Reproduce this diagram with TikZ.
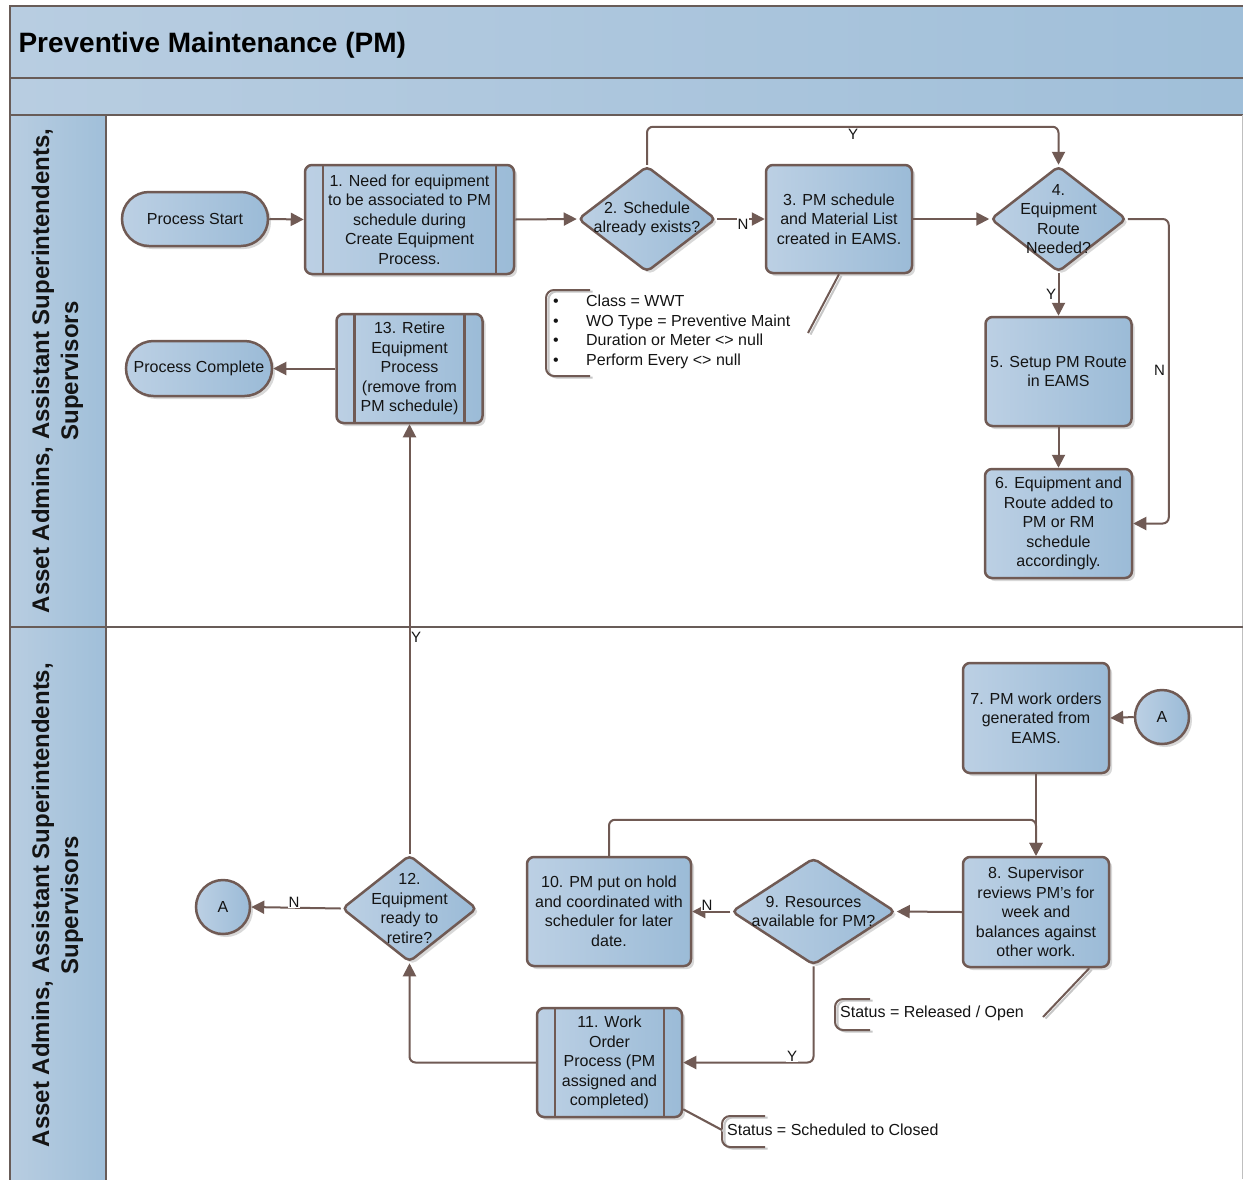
\documentclass[tikz,border=0pt]{standalone}
\usepackage{fontspec}
\setmainfont{Liberation Sans}
\usetikzlibrary{arrows.meta,shapes.geometric,shapes.misc,shadows}

\definecolor{edgec}{RGB}{112,90,84}
\definecolor{boxl}{RGB}{188,208,228}
\definecolor{boxd}{RGB}{155,187,215}
\definecolor{lanel}{RGB}{184,205,225}
\definecolor{laned}{RGB}{160,191,217}
\definecolor{lanebd}{RGB}{104,92,88}
\definecolor{txt}{RGB}{20,20,20}

\tikzset{
  nodefont/.style={font=\fontsize{16}{19.5}\selectfont},
  base/.style={draw=edgec, line width=2.5pt, left color=boxl, right color=boxd,
    text=txt, nodefont, align=center, inner sep=0pt,
    drop shadow={shadow xshift=3pt, shadow yshift=-3pt, opacity=0.25, fill=black!60}},
  procbox/.style={base, rectangle, rounded corners=7pt},
  predef/.style={procbox,
    path picture={
      \draw[edgec, line width=2.2pt] ([xshift=18pt]path picture bounding box.north west) -- ([xshift=18pt]path picture bounding box.south west);
      \draw[edgec, line width=2.2pt] ([xshift=-18pt]path picture bounding box.north east) -- ([xshift=-18pt]path picture bounding box.south east);}},
  terminal/.style={base, rounded rectangle},
  connector/.style={base, circle, minimum size=54pt},
  decision/.style={base, diamond, rounded corners=5pt},
  dlabel/.style={text=txt, nodefont, align=center, inner sep=0pt},
  flow/.style={draw=edgec, line width=2pt, rounded corners=6pt,
    -{Triangle[width=13pt,length=13pt]}},
  elabel/.style={text=txt, font=\fontsize{15}{18}\selectfont, inner sep=1pt},
  elabelw/.style={elabel, fill=white},
  lane/.style={left color=lanel, right color=laned, draw=lanebd, line width=2.5pt},
  notetext/.style={text=txt, nodefont, align=left, inner sep=0pt},
  noteline/.style={draw=edgec, line width=2pt, rounded corners=8pt,
    preaction={draw=black!22, line width=2pt, transform canvas={shift={(2.5pt,-1.5pt)}}}},
}

\begin{document}
\begin{tikzpicture}[x=1pt,y=-1pt]
\useasboundingbox (0,0) rectangle (1243,1179);
\fill[white] (0,0) rectangle (1243,1179);

% ---------- pool and lanes ----------
\path[lane] (10,6) rectangle (1245,78);
\path[lane] (10,78) rectangle (1245,115);
\path[lane, line width=2pt] (10,115) rectangle (106,627);
\path[lane, line width=2pt] (10,627) rectangle (106,1195);
\draw[black!25, line width=1pt] (1242,115) -- (1242,1179);
\draw[lanebd, line width=2.5pt] (10,627) -- (1243,627);
\draw[lanebd, line width=2.5pt] (10,6) -- (10,1179);

\node[anchor=base west, text=black, font=\bfseries\fontsize{28}{32}\selectfont] (title) at (15,52) {Preventive Maintenance (PM)};

\node[rotate=90, align=center, text=txt, font=\bfseries\fontsize{24}{29}\selectfont] (lane1) at (57.5,371) {Asset Admins, Assistant Superintendents,\\Supervisors};
\node[rotate=90, align=center, text=txt, font=\bfseries\fontsize{24}{29}\selectfont] (lane2) at (57.5,905) {Asset Admins, Assistant Superintendents,\\Supervisors};

% ---------- upper lane nodes ----------
\node[terminal, minimum width=146pt, minimum height=54pt] (start) at (195,219) {Process Start};
\node[predef, minimum width=209pt, minimum height=109pt] (b1) at (409.5,219.5) {1. Need for equipment\\to be associated to PM\\schedule during\\Create Equipment\\Process.};
\node[decision, minimum width=138pt, minimum height=106pt,
  label={[dlabel]center:{2. Schedule\\already exists?}}] (d2) at (647,219) {};
\node[procbox, minimum width=146pt, minimum height=108pt] (b3) at (839,219) {3. PM schedule\\and Material List\\created in EAMS.};
\node[decision, minimum width=136pt, minimum height=106pt,
  label={[dlabel]center:{4.\\Equipment\\Route\\Needed?}}] (d4) at (1058.5,219) {};
\node[procbox, minimum width=146pt, minimum height=109pt] (b5) at (1058.5,371.5) {5. Setup PM Route\\in EAMS};
\node[procbox, minimum width=147pt, minimum height=109pt] (b6) at (1058.5,523.5) {6. Equipment and\\Route added to\\PM or RM\\schedule\\accordingly.};
\node[terminal, minimum width=146pt, minimum height=55pt] (done) at (199,368.5) {Process Complete};
\node[predef, minimum width=146pt, minimum height=109pt] (b13) at (409.5,368.5) {13. Retire\\Equipment\\Process\\(remove from\\PM schedule)};

% ---------- lower lane nodes ----------
\node[procbox, minimum width=146pt, minimum height=110pt] (b7) at (1036,718) {7. PM work orders\\generated from\\EAMS.};
\node[connector] (ca) at (1162,717) {A};
\node[procbox, minimum width=146pt, minimum height=110pt] (b8) at (1036,912) {8. Supervisor\\reviews PM’s for\\week and\\balances against\\other work.};
\node[decision, minimum width=164pt, minimum height=107pt,
  label={[dlabel]center:{9. Resources\\available for PM?}}] (d9) at (813.5,911.5) {};
\node[procbox, minimum width=164pt, minimum height=109pt] (b10) at (609,911.5) {10. PM put on hold\\and coordinated with\\scheduler for later\\date.};
\node[decision, minimum width=135pt, minimum height=107pt,
  label={[dlabel]center:{12.\\Equipment\\ready to\\retire?}}] (d12) at (409.5,908.5) {};
\node[connector] (cb) at (223,907) {A};
\node[predef, minimum width=145pt, minimum height=109pt] (b11) at (609.5,1062.5) {11. Work\\Order\\Process (PM\\assigned and\\completed)};

% ---------- annotations ----------
\node[notetext, anchor=north west] (note3) at (553,295) {\makebox[33pt][l]{•}Class = WWT\\\makebox[33pt][l]{•}WO Type = Preventive Maint\\\makebox[33pt][l]{•}Duration or Meter <> null\\\makebox[33pt][l]{•}Perform Every <> null};
\draw[noteline] (590,290) -- (546,290) -- (546,376) -- (590,376);
\coordinate (n3) at (808,333);
\draw[noteline] (n3) -- (b3.south);

\node[notetext, anchor=west] (st1) at (840,1013.5) {Status = Released / Open};
\draw[noteline] (870,999) -- (835,999) -- (835,1030) -- (870,1030);
\coordinate (s1) at (1043,1017);
\draw[noteline] (s1) -- ([xshift=-21pt]b8.south east);

\node[notetext, anchor=west] (st2) at (727,1129.5) {Status = Scheduled to Closed};
\draw[noteline] (765,1116) -- (722,1116) -- (722,1147) -- (765,1147);
\coordinate (s2) at (722,1130);
\draw[noteline, rounded corners=0pt] (s2) -- ([yshift=9pt]b11.south east);

% ---------- connectors ----------
\draw[flow] (start.east) -- (b1.west);
\draw[flow] (b1.east) -- (d2.west);
\draw[flow] (d2.east) -- (b3.west);
\draw[flow] (d2.north) -- ++(0,-38) -| (d4.north);
\draw[flow] (b3.east) -- (d4.west);
\draw[flow] (d4.south) -- (b5.north);
\draw[flow] (d4.east) -- ++(41,0) |- (b6.east);
\draw[flow] (b5.south) -- (b6.north);
\draw[flow] (b13.west) -- (done.east);
\draw[flow] (d12.north) -- (b13.south);
\draw[flow] (d12.west) -- (cb.east);
\draw[flow] (ca.west) -- (b7.east);
\draw[flow] (b7.south) -- (b8.north);
\draw[flow] (b10.north) -- ++(0,-36) -| (b8.north);
\draw[flow] (b8.west) -- (d9.east);
\draw[flow] (d9.west) -- (b10.east);
\draw[flow] (d9.south) |- (b11.east);
\draw[flow] (b11.west) -| (d12.south);

% ---------- connector labels ----------
\node[elabelw] (lN2) at (743,224) {N};
\node[elabelw] (lY2) at (853,134) {Y};
\node[elabel] (lY4) at (1051,294) {Y};
\node[elabel] (lN4) at (1159.5,370) {N};
\node[elabel] (lY12) at (416,637) {Y};
\node[elabelw] (lN12) at (294,902) {N};
\node[elabelw] (lN9) at (707,905) {N};
\node[elabelw] (lY9) at (792,1056) {Y};
\end{tikzpicture}
\end{document}
